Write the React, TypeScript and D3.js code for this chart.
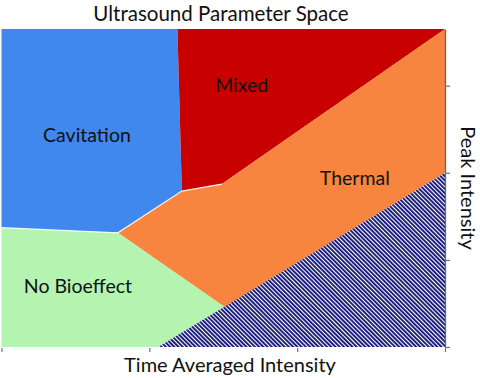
import React, { useEffect, useRef } from "react";
import * as d3 from "d3";

// Region polygons in data units (x: time averaged intensity, y: peak intensity)
const cavitation: [number, number][] = [[0, 3.65], [1.19, 3.65], [1.22, 1.79], [0.787, 1.31], [0, 1.37]];
const mixed: [number, number][] = [[1.19, 3.65], [3, 3.65], [1.49, 1.87], [1.22, 1.79]];
const thermal: [number, number][] = [[1.22, 1.79], [1.49, 1.87], [3, 3.65], [3, 2.0], [1.51, 0.46], [0.787, 1.31]];
const noBioeffect: [number, number][] = [[0, 1.37], [0.787, 1.31], [1.51, 0.46], [1.06, 0], [0, 0]];
const hatched: [number, number][] = [[1.06, 0], [3, 2.0], [3, 0]];
const boundary: [number, number][] = [[1.49, 1.87], [1.22, 1.79], [0.787, 1.31], [0, 1.37]];

const regionNames = ["Cavitation", "Mixed", "Thermal", "No Bioeffect"];
const labelX = [0.578, 1.625, 2.39, 0.517];
const labelY = [2.35, 2.93, 1.86, 0.62];
const xTicks = [0, 1, 2, 3];
const yTicks = [0, 1, 2, 3];

const title = "Ultrasound Parameter Space";
const xTitle = "Time Averaged Intensity";
const yTitle = "Peak Intensity";

const W = 480;
const H = 378;
const m = { left: 1.5, right: 35, top: 29, bottom: 31 };

export default function App() {
  const xAxisRef = useRef<SVGGElement>(null);
  const yAxisRef = useRef<SVGGElement>(null);

  const x = d3.scaleLinear().domain([0, 3]).range([m.left, W - m.right]);
  const y = d3.scaleLinear().domain([0, 3.65]).range([H - m.bottom, m.top]);
  const line = d3.line<[number, number]>().x((d) => x(d[0])).y((d) => y(d[1]));
  const poly = (pts: [number, number][]) => line(pts) + "Z";

  useEffect(() => {
    if (xAxisRef.current) {
      const g = d3.select(xAxisRef.current);
      g.call(d3.axisBottom(x).tickValues(xTicks).tickSize(4).tickSizeOuter(0).tickFormat(() => ""));
      g.select(".domain").remove();
      g.selectAll(".tick line").attr("stroke", "#6d747c").attr("stroke-width", 1.2);
    }
    if (yAxisRef.current) {
      const g = d3.select(yAxisRef.current);
      g.call(d3.axisRight(y).tickValues(yTicks).tickSize(5).tickSizeOuter(0).tickFormat(() => ""));
      g.select(".domain").attr("stroke", "#5f6a75").attr("stroke-width", 1.3);
      g.selectAll(".tick line").attr("stroke", "#6d747c").attr("stroke-width", 1.2);
    }
  });

  const font = "Lato, 'Open Sans', sans-serif";
  const fills = ["#4087ee", "#c80000", "#f7843f", "#b4f4b0"];
  const regions = [cavitation, mixed, thermal, noBioeffect];

  return (
    <svg width={W} height={H} style={{ position: "absolute", left: 0, top: 0 }}>
      <defs>
        <pattern id="hatch" width="3" height="3" patternUnits="userSpaceOnUse" patternTransform="rotate(-45)">
          <rect width="3" height="3" fill="#ffffff" />
          <rect width="1.9" height="3" fill="#15167a" />
        </pattern>
      </defs>
      <rect width={W} height={H} fill="#ffffff" />
      {regions.map((r, i) => (
        <path key={i} d={poly(r)} fill={fills[i]} />
      ))}
      <path d={poly(hatched)} fill="url(#hatch)" />
      <path d={line(boundary) || ""} fill="none" stroke="#ffffff" strokeWidth={1.3} strokeOpacity={0.85} />
      {regionNames.map((n, i) => (
        <text key={n} x={x(labelX[i])} y={y(labelY[i])} textAnchor="middle" fontFamily={font} fontSize={19.5} fill="#111">
          {n}
        </text>
      ))}
      <g ref={xAxisRef} transform={`translate(0,${H - m.bottom + 1})`} />
      <g ref={yAxisRef} transform={`translate(${W - m.right},0)`} />
      <text x={221} y={20.5} textAnchor="middle" fontFamily={font} fontSize={20.5} fill="#111">
        {title}
      </text>
      <text x={230} y={372} textAnchor="middle" fontFamily={font} fontSize={20} fill="#111">
        {xTitle}
      </text>
      <text transform={`translate(461,${(m.top + H - m.bottom) / 2}) rotate(90)`} textAnchor="middle" fontFamily={font} fontSize={20} fill="#111">
        {yTitle}
      </text>
    </svg>
  );
}
